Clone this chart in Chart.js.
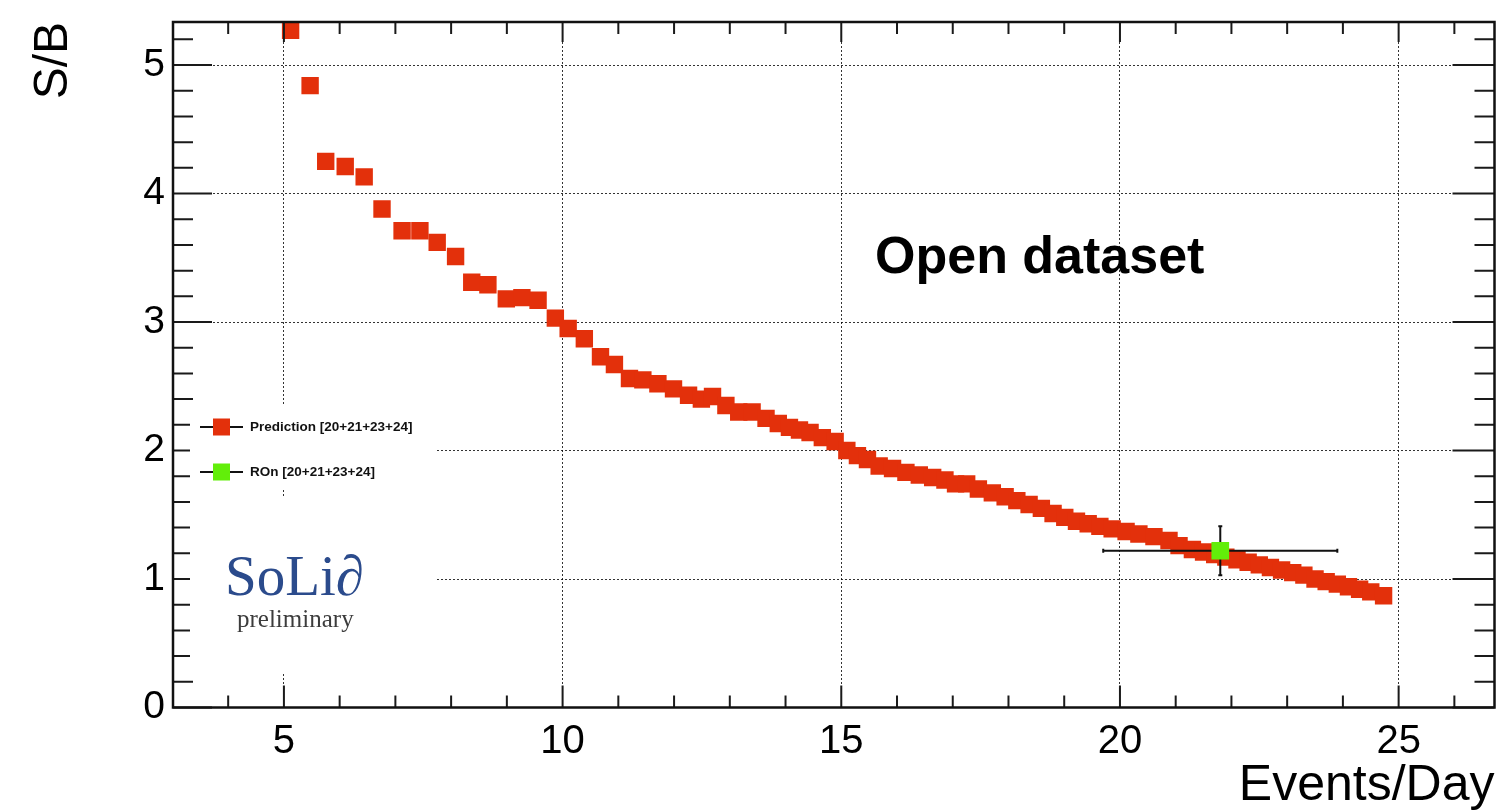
<!DOCTYPE html>
<html>
<head>
<meta charset="utf-8">
<script src="https://cdn.jsdelivr.net/npm/chart.js@4.4.1/dist/chart.umd.min.js"></script>
<style>
  html, body { margin: 0; padding: 0; background: #fff; }
  #wrap { width: 1507px; height: 810px; }
</style>
</head>
<body>
<div id="wrap"><canvas id="sb" width="1507" height="810"></canvas></div>
<script>
// Predicted S/B vs events per day
const predEvents = [
  5.12, 5.47, 5.75, 6.10, 6.44, 6.76, 7.12, 7.44, 7.75, 8.08,
  8.37, 8.66, 8.99, 9.27, 9.56, 9.87, 10.10, 10.39, 10.68, 10.93,
  11.20, 11.44, 11.71, 11.99, 12.26, 12.49, 12.69, 12.93, 13.16, 13.40,
  13.65, 13.87, 14.07, 14.25, 14.44, 14.66, 14.89, 15.10, 15.29, 15.47,
  15.68, 15.92, 16.16, 16.40, 16.64, 16.86, 17.05, 17.25, 17.46, 17.71,
  17.94, 18.15, 18.37, 18.59, 18.80, 19.01, 19.22, 19.43, 19.64, 19.86,
  20.11, 20.34, 20.61, 20.88, 21.06, 21.30, 21.50, 21.70, 21.90, 22.10,
  22.30, 22.50, 22.70, 22.90, 23.10, 23.30, 23.50, 23.70, 23.90, 24.10,
  24.30, 24.50, 24.73
]
const predSB = [
  5.27, 4.84, 4.25, 4.21, 4.13, 3.88, 3.71, 3.71, 3.62, 3.51,
  3.31, 3.29, 3.18, 3.19, 3.17, 3.03, 2.95, 2.87, 2.73, 2.67,
  2.56, 2.55, 2.52, 2.48, 2.43, 2.40, 2.42, 2.35, 2.30, 2.30,
  2.25, 2.21, 2.18, 2.16, 2.14, 2.10, 2.07, 2.00, 1.96, 1.93,
  1.88, 1.86, 1.83, 1.81, 1.79, 1.77, 1.74, 1.74, 1.70, 1.67,
  1.64, 1.61, 1.58, 1.55, 1.51, 1.48, 1.45, 1.43, 1.41, 1.39,
  1.37, 1.35, 1.33, 1.30, 1.26, 1.23, 1.21, 1.19, 1.17, 1.15,
  1.13, 1.11, 1.09, 1.07, 1.05, 1.03, 1.00, 0.98, 0.96, 0.94,
  0.92, 0.90, 0.87
]

// Measured reactor-on point with its errors
const ronEvents = [21.8]
const ronSB = [1.22]
const ronErrEvents = [2.1]
const ronErrSB = [0.19]

const predLabel = 'Prediction [20+21+23+24]'
const ronLabel = 'ROn [20+21+23+24]'

const SANS = "'Liberation Sans', Arial, Helvetica, sans-serif"
const SERIF = "'Liberation Serif', 'Times New Roman', serif"
const RED = '#e3300b'
const GREEN = '#62ee0a'
const GRID = 'rgba(0,0,0,0.8)'

// ── Frame, ticks, error bars, legend and labels ──────────────────────────────
const sbDecor = {
  id: 'sbDecor',
  afterDatasetDraw(chart, args) {
    // error bars sit on top of the prediction band, under the ROn marker
    if (args.index !== 0) return
    const ctx = chart.ctx
    const xs = chart.scales.x
    const ys = chart.scales.y
    ctx.save()
    ctx.strokeStyle = '#111'
    ctx.lineWidth = 2
    ronEvents.forEach((ev, i) => {
      const px = xs.getPixelForValue(ev)
      const py = ys.getPixelForValue(ronSB[i])
      const xl = xs.getPixelForValue(ev - ronErrEvents[i])
      const xr = xs.getPixelForValue(ev + ronErrEvents[i])
      const yt = ys.getPixelForValue(ronSB[i] + ronErrSB[i])
      const yb = ys.getPixelForValue(ronSB[i] - ronErrSB[i])
      ctx.beginPath()
      ctx.moveTo(xl, py); ctx.lineTo(xr, py)
      ctx.moveTo(px, yt); ctx.lineTo(px, yb)
      // little end caps
      ctx.moveTo(xl, py - 2); ctx.lineTo(xl, py + 2)
      ctx.moveTo(xr, py - 2); ctx.lineTo(xr, py + 2)
      ctx.moveTo(px - 2, yt); ctx.lineTo(px + 2, yt)
      ctx.moveTo(px - 2, yb); ctx.lineTo(px + 2, yb)
      ctx.stroke()
    })
    ctx.restore()
  },
  afterDatasetsDraw(chart) {
    const ctx = chart.ctx
    const { left, right, top, bottom } = chart.chartArea
    const xs = chart.scales.x
    const ys = chart.scales.y

    // tick marks on all four sides, majors every 5 / every 1
    ctx.save()
    ctx.strokeStyle = '#1a1a1a'
    ctx.lineWidth = 2
    ctx.beginPath()
    for (let v = 4; v <= 26; v++) {
      const px = xs.getPixelForValue(v)
      const major = v % 5 === 0
      ctx.moveTo(px, bottom); ctx.lineTo(px, bottom - (major ? 22 : 12))
      ctx.moveTo(px, top); ctx.lineTo(px, top + (major ? 20 : 12))
    }
    for (let k = 0; k <= 26; k++) {
      const py = ys.getPixelForValue(k * 0.2)
      const major = k % 5 === 0
      ctx.moveTo(left, py); ctx.lineTo(left + (major ? 39 : 20), py)
      ctx.moveTo(right, py); ctx.lineTo(right - (major ? 42 : 20), py)
    }
    ctx.stroke()
    ctx.restore()

    // white legend and logo panels
    ctx.save()
    ctx.fillStyle = '#fff'
    ctx.fillRect(190, 405, 245, 83)
    ctx.fillRect(190, 497, 245, 175)

    // legend rows
    const rows = [
      { ds: chart.data.datasets[0], y: 427 },
      { ds: chart.data.datasets[1], y: 472 },
    ]
    rows.forEach(r => {
      ctx.strokeStyle = '#111'
      ctx.lineWidth = 2
      ctx.beginPath()
      ctx.moveTo(200, r.y); ctx.lineTo(243, r.y)
      ctx.stroke()
      ctx.fillStyle = r.ds.backgroundColor
      ctx.fillRect(213, r.y - 8.5, 17, 17)
      ctx.fillStyle = '#111'
      ctx.font = `bold 13.5px ${SANS}`
      ctx.textAlign = 'left'
      ctx.textBaseline = 'middle'
      ctx.fillText(r.ds.label, 250, r.y)
    })

    // collaboration mark
    ctx.textBaseline = 'alphabetic'
    ctx.fillStyle = '#2b4b8c'
    ctx.font = `57px ${SERIF}`
    ctx.fillText('SoLi\u2202', 225, 595)
    ctx.fillStyle = '#3c3c3c'
    ctx.font = `25px ${SERIF}`
    ctx.fillText('preliminary', 237, 627)

    // dataset tag
    ctx.fillStyle = '#000'
    ctx.font = `bold 52px ${SANS}`
    ctx.fillText('Open dataset', 875, 273)

    // frame
    ctx.strokeStyle = '#111'
    ctx.lineWidth = 2.5
    ctx.strokeRect(left, top, right - left, bottom - top)
    ctx.restore()
  },
}

new Chart(document.getElementById('sb'), {
  type: 'scatter',
  plugins: [sbDecor],
  data: {
    datasets: [
      {
        label: predLabel,
        data: predEvents.map((e, i) => ({ x: e, y: predSB[i] })),
        backgroundColor: RED,
        borderColor: RED,
        borderWidth: 0,
        pointStyle: 'rect',
        pointRadius: 12.3,
        order: 2,
      },
      {
        label: ronLabel,
        data: ronEvents.map((e, i) => ({ x: e, y: ronSB[i] })),
        backgroundColor: GREEN,
        borderColor: GREEN,
        borderWidth: 0,
        pointStyle: 'rect',
        pointRadius: 12.5,
        order: 1,
      },
    ],
  },
  options: {
    responsive: false,
    animation: false,
    devicePixelRatio: 1,
    layout: { padding: { left: 0, top: 22, right: 11, bottom: 0 } },
    plugins: {
      legend: { display: false },
      tooltip: { enabled: false },
    },
    scales: {
      x: {
        type: 'linear',
        min: 3.01,
        max: 26.72,
        afterFit: s => {
          s.height = 102.5
          s.paddingLeft = 0
          s.paddingRight = 0
        },
        ticks: {
          stepSize: 5,
          includeBounds: false,
          padding: 10,
          maxRotation: 0,
          color: '#000',
          font: { family: SANS, size: 40 },
        },
        grid: { color: GRID, lineWidth: 1, drawTicks: false },
        border: { display: false, dash: [2, 2] },
        title: {
          display: true,
          text: 'Events/Day',
          align: 'end',
          color: '#000',
          padding: 0,
          font: { family: SANS, size: 50, lineHeight: 0.94 },
        },
      },
      y: {
        type: 'linear',
        min: 0,
        max: 5.335,
        afterFit: s => {
          s.width = 173
          s.paddingTop = 0
          s.paddingBottom = 0
        },
        ticks: {
          stepSize: 1,
          includeBounds: false,
          padding: 8,
          color: '#000',
          font: { family: SANS, size: 39 },
        },
        grid: { color: GRID, lineWidth: 1, drawTicks: false },
        border: { display: false, dash: [2, 2] },
        title: {
          display: true,
          text: 'S/B',
          align: 'end',
          color: '#000',
          padding: { top: 25, bottom: 0 },
          font: { family: SANS, size: 48 },
        },
      },
    },
  },
})
</script>
</body>
</html>
